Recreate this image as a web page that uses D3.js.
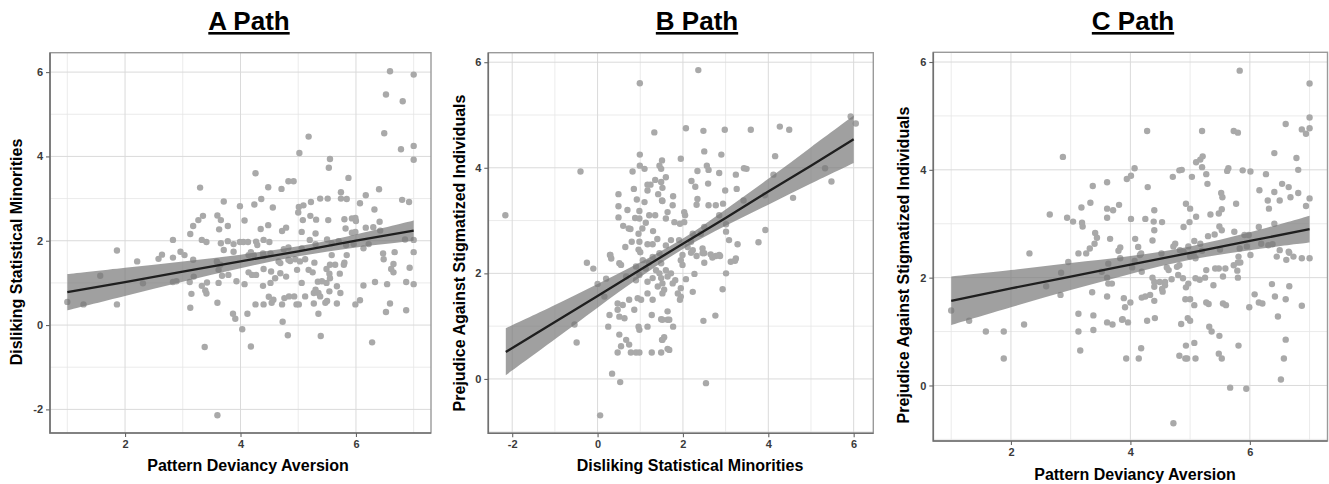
<!DOCTYPE html>
<html><head><meta charset="utf-8">
<script src="https://cdn.jsdelivr.net/npm/d3@7"></script>
<style>
body{margin:0;background:#fff}
svg{display:block}
text{font-family:"Liberation Sans",Arial,Helvetica,sans-serif}
</style>
</head><body>
<svg id="chart" width="1329" height="484"></svg>
<script>
// ---------- data ----------
const titles = ["A Path", "B Path", "C Path"];
const xLabels = ["Pattern Deviancy Aversion", "Disliking Statistical Minorities", "Pattern Deviancy Aversion"];
const yLabels = ["Disliking Statistical Minorities", "Prejudice Against Stigmatized Individuals", "Prejudice Against Stigmatized Individuals"];

const xTicksA = [2, 4, 6];
const yTicksA = [-2, 0, 2, 4, 6];
const xTicksB = [-2, 0, 2, 4, 6];
const yTicksB = [0, 2, 4, 6];
const xTicksC = [2, 4, 6];
const yTicksC = [0, 2, 4, 6];

const pointsA = [
[1.0,0.55],[1.28,0.49],[1.57,1.17],[1.86,0.49],[1.86,1.77],[2.21,1.51],[2.31,0.99],[2.58,1.57],[2.64,1.67],[2.83,1.60],
[2.96,1.74],[3.03,1.66],[3.18,1.55],[2.83,1.02],[2.89,1.04],[3.12,1.02],[3.19,1.15],[3.15,0.74],[3.13,0.41],[3.33,0.93],
[3.42,1.01],[3.39,0.82],[3.41,0.75],[3.60,0.53],[3.38,-0.52],[3.60,-2.14],[3.62,1.0],[3.68,1.17],[3.79,1.19],[3.62,1.31],
[3.59,1.51],[3.65,1.43],[3.30,3.26],[3.71,2.93],[3.35,2.59],[3.27,2.49],[3.18,2.35],[3.13,2.16],[3.60,2.60],[3.66,2.49],
[3.63,2.27],[3.78,2.35],[3.33,2.02],[3.41,1.97],[2.83,2.02],[3.66,1.94],[3.78,1.99],
[6.59,6.02],[7.0,5.94],[6.52,5.47],[6.81,5.31],[6.49,4.55],[5.18,4.47],[5.02,4.08],[6.78,4.17],[7.0,4.25],[7.0,3.92],
[5.55,3.94],[5.53,3.73],[4.26,3.60],[5.87,3.49],[4.83,3.41],[4.92,3.41],[4.48,3.27],[4.71,3.23],[6.40,3.22],[3.99,2.82],
[4.24,2.86],[4.36,2.99],[4.56,2.79],[5.01,2.80],[5.09,2.84],[5.0,2.67],[5.22,2.92],[5.38,3.0],[5.51,3.0],[5.74,3.15],
[5.74,3.0],[5.84,2.99],[6.17,3.08],[6.07,2.89],[6.32,2.74],[6.80,2.97],[6.92,2.92],[4.07,2.48],[4.35,2.28],[4.48,2.37],
[4.72,2.23],[4.79,2.31],[5.08,2.49],[5.21,2.59],[5.31,2.50],[5.06,2.21],[5.52,2.49],[5.30,2.17],[5.80,2.51],[5.93,2.53],
[5.99,2.54],[6.0,2.47],[5.82,2.29],[5.93,2.19],[5.99,2.21],[6.17,2.31],[6.30,2.32],[6.41,2.45],[6.42,2.24],[3.88,1.92],
[3.99,1.97],[4.05,1.97],[4.13,1.97],[4.27,1.98],[4.29,1.90],[4.40,2.02],[4.50,1.97],[3.71,1.78],[3.88,1.74],[4.18,1.73],
[4.39,1.70],[4.75,1.80],[4.83,1.84],[5.06,1.82],[5.20,2.02],[5.30,1.92],[5.50,2.03],[5.58,1.94],[5.70,1.99],[5.83,1.90],
[5.96,1.92],[6.13,1.82],[6.22,1.92],[6.47,1.70],[6.67,1.73],[6.85,2.03],[7.0,2.02],[7.0,1.73],[5.58,1.66],
[6.48,1.56],[6.65,1.45],[6.61,1.33],[6.65,1.25],[6.93,1.36],[6.87,1.02],[7.0,0.97],[6.59,0.51],[6.52,0.31],[6.87,0.35],
[6.33,1.02],[6.13,0.94],[6.07,0.59],[5.99,0.49],[6.28,-0.41],[5.84,1.66],[5.80,1.48],[5.79,1.43],[5.64,1.43],[5.55,1.43],
[5.49,1.33],[5.54,1.22],[5.55,1.11],[5.72,1.22],[5.67,0.92],[5.73,0.76],[5.67,0.51],[5.47,0.53],[5.50,0.57],[5.54,0.80],
[5.35,0.76],[5.38,0.68],[5.27,0.76],[5.30,0.84],[5.34,1.03],[5.41,1.04],[5.49,1.0],[5.25,1.25],[5.18,1.31],[5.12,1.56],
[5.06,1.0],[4.98,1.31],[4.95,1.56],[4.86,1.52],[4.79,1.15],[4.69,1.23],[4.76,0.64],[4.84,0.68],[4.93,0.68],[4.97,0.49],
[5.01,0.49],[5.12,0.68],[5.27,0.51],[5.35,0.27],[5.39,-0.26],[4.82,-0.24],[4.73,0.08],[4.72,0.49],[4.54,0.53],[4.57,0.60],
[4.49,0.67],[4.40,0.49],[4.26,0.49],[4.39,0.93],[4.52,1.0],[4.60,1.11],[4.53,1.27],[4.40,1.33],[4.27,1.19],[4.20,1.19],
[4.14,1.25],[4.07,0.97],[3.93,1.04],[4.12,0.27],[3.87,0.27],[3.91,0.15],[4.03,-0.10],[4.18,-0.51],[6.54,0.97],
[4.14,1.66],[4.23,1.66],[4.40,1.64],[4.52,1.70],[4.66,1.51],[4.83,1.55],[5.03,1.51],[5.28,1.48],[4.69,1.47]
];

const pointsB = [
[0.99,5.60],[1.33,4.67],[-0.40,3.93],[-2.16,3.10],[0.49,3.50],[0.49,3.27],[0.49,3.06],[0.73,2.85],[0.77,2.84],[0.82,3.93],
[0.99,4.25],[0.99,4.04],[1.10,3.98],[0.92,3.40],[0.98,3.18],[0.88,3.05],[0.98,3.04],[1.13,2.96],[1.21,3.10],[0.96,2.75],
[0.98,2.60],[0.96,2.45],[1.17,2.55],[1.29,2.55],[1.17,3.57],[1.24,3.68],[1.17,3.68],[1.35,3.77],[1.49,3.73],[1.42,3.50],
[1.51,3.38],[1.45,4.04],[1.51,4.14],[1.49,3.98],[1.60,3.82],[0.30,2.35],
[2.36,5.85],[2.07,4.75],[2.48,4.70],[2.98,4.72],[3.59,4.72],[4.27,4.78],[4.49,4.72],[2.50,4.31],[1.95,4.17],[2.90,4.25],
[4.16,4.22],[2.34,3.94],[2.56,4.04],[2.60,3.96],[2.85,3.90],[3.24,3.87],[3.43,3.99],[3.49,3.98],[5.33,3.99],[5.48,3.74],
[5.93,4.97],[6.05,4.84],[4.58,3.43],[4.12,3.87],[2.20,3.75],[2.29,3.64],[2.59,3.70],[2.99,3.57],[3.26,3.60],[1.52,3.62],
[1.77,3.46],[1.76,3.29],[1.52,3.37],[2.34,3.41],[2.32,3.30],[2.60,3.29],[2.77,3.29],[2.94,3.32],[3.42,3.38],[3.92,3.48],
[1.64,3.16],[1.60,3.04],[1.80,2.97],[1.93,2.94],[2.03,3.16],[2.05,3.10],[2.03,2.97],[2.23,2.75],[2.19,2.60],[2.42,2.75],
[2.50,2.88],[2.85,3.10],[3.01,2.93],[3.01,2.79],[3.08,2.63],[3.28,2.55],[3.77,2.59],[3.93,2.82],[1.45,2.38],[1.60,2.53],
[1.72,2.63],[1.91,2.63],[2.11,2.50],[2.23,2.44],[2.46,2.47],[2.50,2.38],[2.77,2.33],[2.85,2.35],[3.24,2.28],
[-0.25,2.20],[-0.10,2.09],[0.29,2.35],[0.32,2.28],[0.51,2.19],[0.55,2.16],[0.16,1.56],[-0.54,1.03],[-0.49,0.69],[0.34,0.10],
[0.53,-0.06],[0.06,-0.69],[0.28,1.21],[0.25,0.99],[0.47,1.43],[0.47,1.31],[0.59,1.40],[0.51,1.18],[0.63,1.15],[0.74,1.50],
[0.86,1.31],[0.51,0.84],[0.47,0.50],[0.55,0.62],[0.67,0.74],[0.78,0.50],[0.90,0.50],[0.98,0.50],[0.74,0.65],[0.96,0.99],
[0.98,0.93],[1.17,0.99],[0.94,1.53],[1.02,1.50],[1.17,1.62],[1.29,1.50],[1.27,1.21],[1.49,1.13],[1.64,1.12],[1.27,0.50],
[1.49,0.50],[1.52,0.74],[1.64,0.57],[0.90,1.87],[1.17,1.84],[1.29,1.91],[1.41,1.75],[1.52,1.81],[1.64,1.94],[0.98,1.97],
[0.67,1.94],[1.13,2.09],[1.37,2.06],[1.49,2.19],[0.90,2.13],[1.06,2.25],[1.29,2.31],
[2.54,-0.08],[2.48,1.10],[2.76,1.20],[2.93,1.70],[3.01,2.0],[3.12,2.22],[3.22,2.24],[2.87,2.33],[2.69,2.30],[2.65,2.36],
[2.50,2.20],[2.46,2.38],[2.32,2.33],[2.19,2.39],[2.27,1.99],[2.07,1.89],[2.23,1.65],[1.95,1.72],[1.95,1.56],[1.88,1.62],
[1.93,1.50],[1.76,1.81],[1.82,1.87],[1.72,2.0],[1.99,2.16],[1.95,2.25],[1.99,2.35],[1.60,2.06],[1.52,1.62],[1.56,1.69],
[1.45,2.0],[1.49,1.91],[1.64,1.28],[1.68,1.12],[1.77,0.99],[1.56,0.79],[1.51,0.74],[1.68,0.55],[1.52,1.12],
[0.6,2.9],[0.7,3.2],[0.8,2.6],[1.05,2.85],[1.3,2.8],[1.35,3.1],[1.4,2.65],[0.65,2.5],[1.1,3.35],[0.85,3.6],
[1.2,2.2],[1.0,2.4],[0.0,1.8],[0.2,1.9]
];

const pointsC = [
[2.87,4.24],[2.65,3.17],[2.94,3.11],[3.04,3.04],[3.18,3.30],[3.33,3.39],[3.37,3.70],[3.19,3.02],[3.20,2.95],[3.61,3.77],
[3.61,3.28],[3.61,3.11],[3.41,2.83],[3.44,2.74],[3.40,2.63],[3.32,2.54],[3.26,2.45],[3.13,2.45],[2.31,2.45],[3.66,2.72],
[1.0,1.39],[1.30,1.20],[1.58,1.0],[1.88,1.0],[1.88,0.50],[2.22,1.13],[2.59,1.84],[2.83,1.68],[2.84,2.09],[2.96,2.29],
[3.13,1.33],[3.38,1.30],[3.38,1.03],[3.13,1.0],[3.16,0.65],[3.36,1.73],[3.61,1.65],[3.61,1.17],[3.63,1.89],[3.63,2.26],
[4.72,-0.70],[5.67,-0.04],[5.94,-0.06],[6.52,0.11],[6.57,0.50],[6.60,0.85],[5.81,0.74],[5.53,0.50],[5.48,0.59],[5.07,0.79],
[5.09,0.50],[4.95,0.50],[4.92,0.50],[4.93,0.74],[4.82,0.55],[3.93,0.50],[4.14,0.50],[4.18,0.69],[5.49,0.92],[5.36,1.0],
[5.32,1.09],[5.0,1.20],[4.96,1.25],[4.85,1.14],[4.28,1.20],[4.41,1.25],[3.96,1.17],[3.87,1.23],[3.70,1.13],[6.47,1.28],
[6.42,1.65],[6.60,1.60],[6.66,1.84],[6.37,1.88],[6.87,1.48],[5.99,1.45],[6.08,1.69],[6.15,1.54],[6.21,1.52],[6.45,2.39],
[6.61,2.33],[6.87,2.36],[7.0,2.36],[6.50,2.51],[6.66,2.46],[6.01,2.42],[5.81,2.39],[5.80,2.28],[5.84,2.28],[5.73,2.23],
[5.79,2.13],[5.80,2.0],[5.59,2.17],[5.55,2.02],[5.48,2.17],[5.42,2.17],[5.39,1.86],[5.27,2.14],[5.25,2.0],[5.16,1.96],
[5.09,1.99],[4.97,1.89],[4.93,1.82],[4.88,1.99],[4.80,2.05],[4.69,1.97],[4.64,2.14],[4.58,1.92],[4.58,1.86],[4.53,1.79],
[4.54,1.74],[4.49,1.92],[4.40,1.83],[4.40,1.92],[4.37,2.0],[4.82,2.23],[4.78,2.20],[4.61,2.19],[5.09,2.36],[5.06,2.42],
[5.0,2.39],[4.89,2.48],[4.92,1.60],[5.0,1.60],[5.07,1.49],[5.27,1.54],[5.31,1.51],[5.55,1.52],[5.60,1.49],[4.25,1.65],
[4.33,1.68],[4.40,1.57],[4.19,1.63],[3.89,1.62],[3.91,1.45],[4.0,1.54],[3.86,1.22],[3.52,2.11],[3.61,2.0],[3.69,1.89],
[4.16,2.42],[4.19,2.11],[4.07,2.31],[4.03,2.19],[3.83,2.36],
[5.83,5.84],[7.0,5.60],[4.28,4.72],[5.20,4.72],[5.73,4.72],[5.80,4.69],[6.60,4.85],[6.87,4.75],[6.94,4.67],[7.0,4.77],
[7.0,4.97],[6.41,4.31],[6.78,4.22],[6.81,4.0],[5.10,4.14],[5.17,4.19],[5.21,4.25],[5.20,4.05],[5.27,3.92],[5.29,3.74],
[4.82,3.99],[4.86,4.0],[4.71,3.87],[5.03,3.87],[5.62,3.98],[5.64,4.03],[5.88,3.99],[6.01,3.97],[6.27,3.92],[4.07,4.03],
[4.01,3.89],[3.94,3.83],[4.29,3.68],[6.54,3.74],[6.65,3.68],[6.41,3.59],[6.16,3.62],[6.81,3.57],[6.68,3.49],[7.0,3.47],
[6.94,3.33],[6.50,3.43],[6.30,3.43],[6.32,3.28],[5.52,3.57],[5.54,3.49],[5.77,3.37],[4.93,3.37],[5.0,3.28],[5.10,3.13],
[4.99,3.03],[4.89,2.94],[5.48,3.19],[5.53,3.27],[5.34,3.17],[5.49,2.95],[3.81,3.35],[3.71,3.25],[4.01,3.09],[4.25,3.09],
[4.40,3.25],[4.39,3.04],[4.53,3.03],[4.40,2.88],[4.37,2.69],[3.83,2.56],[3.80,2.50],[4.08,2.72],[4.13,2.57],[4.18,2.45],
[4.75,2.63],[4.72,2.58],[5.07,2.68],[5.17,2.63],[5.30,2.77],[5.41,2.80],[5.53,2.88],[5.74,2.85],[5.91,2.79],[5.98,2.79],
[6.15,2.94],[6.19,2.63],[6.31,2.60],[6.41,3.0],[6.38,2.62],[6.65,2.48],[6.73,2.39],[4.52,2.45],[4.83,2.51],[4.97,2.58],
[5.20,2.50],[5.50,2.52],[5.83,2.54],[5.95,2.58]
];

// fitted regression lines with 95% confidence bands
const fitA_x   = [1, 2, 3, 4, 5, 6, 7];
const fitA_mid = [0.78, 1.02, 1.27, 1.51, 1.75, 2.00, 2.24];
const fitA_lo  = [0.35, 0.69, 1.03, 1.35, 1.63, 1.84, 2.00];
const fitA_hi  = [1.21, 1.36, 1.51, 1.67, 1.87, 2.15, 2.48];

const fitB_x   = [-2.15, -1, 0, 1, 2, 3, 4, 5, 6];
const fitB_mid = [0.51, 1.08, 1.57, 2.07, 2.56, 3.05, 3.55, 4.04, 4.54];
const fitB_lo  = [0.07, 0.75, 1.35, 1.93, 2.46, 2.90, 3.30, 3.70, 4.09];
const fitB_hi  = [0.96, 1.40, 1.80, 2.21, 2.66, 3.21, 3.79, 4.39, 4.99];

const fitC_x   = [1, 2, 3, 4, 5, 6, 7];
const fitC_mid = [1.57, 1.80, 2.02, 2.24, 2.46, 2.68, 2.90];
const fitC_lo  = [1.12, 1.45, 1.77, 2.07, 2.33, 2.51, 2.65];
const fitC_hi  = [2.02, 2.14, 2.27, 2.40, 2.58, 2.84, 3.15];

const xDomainA = [0.7, 7.3],  yDomainA = [-2.56, 6.46];
const xDomainB = [-2.56, 6.46], yDomainB = [-1.03, 6.18];
const xDomainC = [0.7, 7.3],  yDomainC = [-1.03, 6.18];

// ---------- layout ----------
const panels = [
  {title: titles[0], xl: xLabels[0], yl: yLabels[0], pts: pointsA, fx: fitA_x, fm: fitA_mid, flo: fitA_lo, fhi: fitA_hi,
   xd: xDomainA, yd: yDomainA, xt: xTicksA, yt: yTicksA,
   L: 50, R: 431, T: 52.7, B: 433, titleX: 249, xlX: 248, xlY: 471, ylX: 21.5, ylY: 252},
  {title: titles[1], xl: xLabels[1], yl: yLabels[1], pts: pointsB, fx: fitB_x, fm: fitB_mid, flo: fitB_lo, fhi: fitB_hi,
   xd: xDomainB, yd: yDomainB, xt: xTicksB, yt: yTicksB,
   L: 488.3, R: 873.3, T: 52.7, B: 433.3, titleX: 697, xlX: 690, xlY: 471, ylX: 464.5, ylY: 253},
  {title: titles[2], xl: xLabels[2], yl: yLabels[2], pts: pointsC, fx: fitC_x, fm: fitC_mid, flo: fitC_lo, fhi: fitC_hi,
   xd: xDomainC, yd: yDomainC, xt: xTicksC, yt: yTicksC,
   L: 933.3, R: 1327.5, T: 52.3, B: 441, titleX: 1133, xlX: 1135, xlY: 480, ylX: 908.5, ylY: 265}
];

const svg = d3.select("#chart");

function minorOf(ticks, dom) {
  const step = ticks[1] - ticks[0];
  const out = [];
  ticks.forEach(t => { [t - step / 2, t + step / 2].forEach(m => {
    if (m > dom[0] && m < dom[1] && !out.includes(m) && !ticks.includes(m)) out.push(m);
  }); });
  return out;
}

panels.forEach((p, i) => {
  const x = d3.scaleLinear().domain(p.xd).range([p.L, p.R]);
  const y = d3.scaleLinear().domain(p.yd).range([p.B, p.T]);
  const g = svg.append("g");
  const clipId = "clip" + i;
  svg.append("clipPath").attr("id", clipId).append("rect")
    .attr("x", p.L).attr("y", p.T).attr("width", p.R - p.L).attr("height", p.B - p.T);

  // minor grid
  g.selectAll(".mx").data(minorOf(p.xt, p.xd)).enter().append("line")
    .attr("x1", d => x(d)).attr("x2", d => x(d)).attr("y1", p.T).attr("y2", p.B)
    .attr("stroke", "#e6e6e6").attr("stroke-width", 0.8);
  g.selectAll(".my").data(minorOf(p.yt, p.yd)).enter().append("line")
    .attr("y1", d => y(d)).attr("y2", d => y(d)).attr("x1", p.L).attr("x2", p.R)
    .attr("stroke", "#e6e6e6").attr("stroke-width", 0.8);
  // major grid
  g.selectAll(".Mx").data(p.xt).enter().append("line")
    .attr("x1", d => x(d)).attr("x2", d => x(d)).attr("y1", p.T).attr("y2", p.B)
    .attr("stroke", "#dadada").attr("stroke-width", 1);
  g.selectAll(".My").data(p.yt).enter().append("line")
    .attr("y1", d => y(d)).attr("y2", d => y(d)).attr("x1", p.L).attr("x2", p.R)
    .attr("stroke", "#dadada").attr("stroke-width", 1);

  const inner = g.append("g").attr("clip-path", `url(#${clipId})`);
  // points
  inner.selectAll("circle").data(p.pts).enter().append("circle")
    .attr("cx", d => x(d[0])).attr("cy", d => y(d[1])).attr("r", 3.2)
    .attr("fill", "#a9a9a9");
  // confidence band
  const band = p.fx.map((v, k) => ({x: v, lo: p.flo[k], hi: p.fhi[k], m: p.fm[k]}));
  inner.append("path").datum(band)
    .attr("d", d3.area().x(d => x(d.x)).y0(d => y(d.lo)).y1(d => y(d.hi)).curve(d3.curveCatmullRom))
    .attr("fill", "#777").attr("fill-opacity", 0.7);
  inner.append("path").datum(band)
    .attr("d", d3.line().x(d => x(d.x)).y(d => y(d.m)))
    .attr("fill", "none").attr("stroke", "#1f1f1f").attr("stroke-width", 2.3);

  // border
  g.append("rect").attr("x", p.L).attr("y", p.T).attr("width", p.R - p.L).attr("height", p.B - p.T)
    .attr("fill", "none").attr("stroke", "#9a9a9a").attr("stroke-width", 1.4);
  g.append("path").attr("d", `M${p.L},${p.T}V${p.B}H${p.R}`)
    .attr("fill", "none").attr("stroke", "#707070").attr("stroke-width", 1.6);

  // axes
  const fmt = d => String(d);
  const ax = g.append("g").attr("transform", `translate(0,${p.B})`)
    .call(d3.axisBottom(x).tickValues(p.xt).tickSize(4).tickPadding(3).tickFormat(fmt));
  const ay = g.append("g").attr("transform", `translate(${p.L},0)`)
    .call(d3.axisLeft(y).tickValues(p.yt).tickSize(4).tickPadding(3).tickFormat(fmt));
  [ax, ay].forEach(a => {
    a.select(".domain").remove();
    a.selectAll(".tick line").attr("stroke", "#666").attr("stroke-width", 1.1);
    a.selectAll(".tick text").attr("fill", "#3a3a3a").style("font-size", "11px")
      .style("font-family", "'Liberation Sans', Arial, sans-serif").style("font-weight", "bold");
  });

  // labels
  svg.append("text").attr("x", p.titleX).attr("y", 30).attr("text-anchor", "middle")
    .style("font-size", "26px").style("font-weight", "bold").style("text-decoration", "underline")
    .attr("fill", "#000").text(p.title);
  svg.append("text").attr("x", p.xlX).attr("y", p.xlY).attr("text-anchor", "middle")
    .style("font-size", "16px").style("font-weight", "bold").attr("fill", "#000").text(p.xl);
  svg.append("text").attr("transform", `translate(${p.ylX},${p.ylY}) rotate(-90)`).attr("text-anchor", "middle")
    .style("font-size", "16px").style("font-weight", "bold").attr("fill", "#000").text(p.yl);
});
</script>
</body></html>
